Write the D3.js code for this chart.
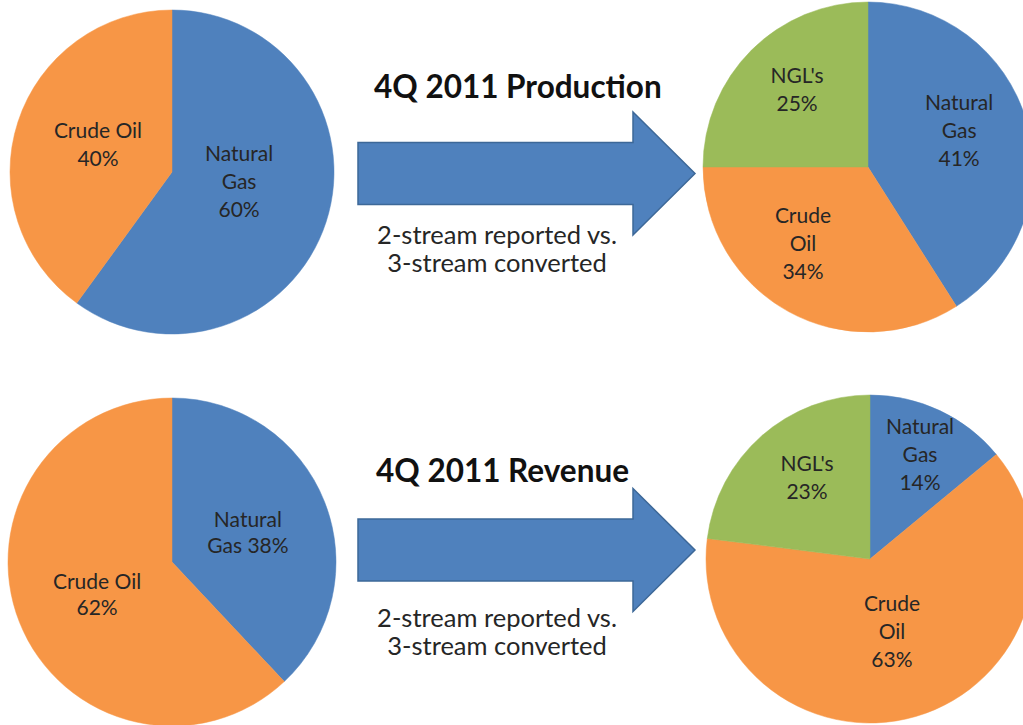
<!DOCTYPE html>
<html>
<head>
<meta charset="utf-8">
<script src="https://cdn.jsdelivr.net/npm/d3@7/dist/d3.min.js"></script>
<style>
  html, body { margin: 0; padding: 0; background: #ffffff; }
  svg { display: block; }
</style>
</head>
<body>
<div id="chart"></div>
<script>
// ---------------- DATA ----------------
const panelTitles = ["4Q 2011 Production", "4Q 2011 Revenue"];
const subtitleLines = ["2-stream reported vs.", "3-stream converted"];

const twoStreamCategories = ["Natural Gas", "Crude Oil"];
const threeStreamCategories = ["Natural Gas", "Crude Oil", "NGL's"];

const productionTwoStream = [60, 40];
const productionThreeStream = [41, 34, 25];
const revenueTwoStream = [38, 62];
const revenueThreeStream = [14, 63, 23];

// ---------------- LAYOUT / STYLE ----------------
const W = 1023, H = 725;
const colors = { "Natural Gas": "#4F81BD", "Crude Oil": "#F79646", "NGL's": "#9BBB59" };
const fontFamily = "Lato, 'Open Sans', 'Liberation Sans', sans-serif";

// label line templates (how each label wraps)
const wrap = {
  nameLinesPct: (name, pct) => [...name.split(" "), pct],     // Natural / Gas / 60%
  nameOnePct:   (name, pct) => [name, pct],                    // Crude Oil / 40%
  lastWithPct:  (name, pct) => { const p = name.split(" "); return [p[0], p.slice(1).join(" ") + " " + pct]; }
};

const pies = [
  { cats: twoStreamCategories,   vals: productionTwoStream,   cx: 172, cy: 172, r: 162, lh: 28,
    labels: [ { w: "nameLinesPct", dx: 0.414, dy: 0.062 }, { w: "nameOnePct", dx: -0.457, dy: -0.167 } ] },
  { cats: threeStreamCategories, vals: productionThreeStream, cx: 868, cy: 167, r: 165, lh: 28,
    labels: [ { w: "nameLinesPct", dx: 0.552, dy: -0.218 }, { w: "nameLinesPct", dx: -0.394, dy: 0.467 }, { w: "nameOnePct", dx: -0.430, dy: -0.467 } ] },
  { cats: twoStreamCategories,   vals: revenueTwoStream,      cx: 172, cy: 562, r: 164, lh: 26,
    labels: [ { w: "lastWithPct", dx: 0.463, dy: -0.177 }, { w: "nameOnePct", dx: -0.457, dy: 0.204 } ] },
  { cats: threeStreamCategories, vals: revenueThreeStream,    cx: 870, cy: 559, r: 164, lh: 28,
    labels: [ { w: "nameLinesPct", dx: 0.305, dy: -0.637 }, { w: "nameLinesPct", dx: 0.134, dy: 0.445 }, { w: "nameOnePct", dx: -0.384, dy: -0.497 } ] }
];

const panels = [
  { title: panelTitles[0], titleX: 374, titleY: 98, cy: 173.5, subY: 244 },
  { title: panelTitles[1], titleX: 376, titleY: 482, cy: 550, subY: 627 }
];
const arrowGeom = { x0: 358, xHead: 633, xTip: 695, shaftHalf: 31, headHalf: 61.5 };

// ---------------- DRAW ----------------
const svg = d3.select("#chart").append("svg").attr("width", W).attr("height", H)
  .style("background", "#ffffff");

const pct = d3.format(".0%");
const pieGen = d3.pie().sort(null).value(d => d.value).startAngle(0).endAngle(2 * Math.PI);

pies.forEach(p => {
  const data = p.cats.map((c, i) => ({ cat: c, value: p.vals[i] }));
  const total = d3.sum(p.vals);
  const arcs = pieGen(data);
  const arc = d3.arc().innerRadius(0).outerRadius(p.r);
  const g = svg.append("g").attr("transform", `translate(${p.cx},${p.cy})`);

  g.selectAll("path.slice").data(arcs).join("path")
    .attr("class", "slice")
    .attr("d", arc)
    .attr("fill", d => colors[d.data.cat])
    .attr("stroke", d => colors[d.data.cat])
    .attr("stroke-width", 0.5);

  arcs.forEach((a, i) => {
    const lab = p.labels[i];
    const lines = wrap[lab.w](a.data.cat, pct(a.data.value / total));
    const bx = lab.dx * p.r, by = lab.dy * p.r;
    const firstBase = by - (lines.length - 1) * p.lh / 2 + 7;
    const t = g.append("text")
      .attr("text-anchor", "middle")
      .attr("font-family", fontFamily)
      .attr("font-size", 21)
      .attr("fill", "#262626");
    lines.forEach((ln, k) => {
      t.append("tspan").attr("x", bx).attr("y", firstBase + k * p.lh).text(ln);
    });
  });
});

panels.forEach(pn => {
  const a = arrowGeom;
  const pts = [
    [a.x0, pn.cy - a.shaftHalf], [a.xHead, pn.cy - a.shaftHalf], [a.xHead, pn.cy - a.headHalf],
    [a.xTip, pn.cy], [a.xHead, pn.cy + a.headHalf], [a.xHead, pn.cy + a.shaftHalf], [a.x0, pn.cy + a.shaftHalf]
  ];
  svg.append("path")
    .attr("d", d3.line()(pts) + "Z")
    .attr("fill", "#4F81BD")
    .attr("stroke", "#3D6898")
    .attr("stroke-width", 1.5)
    .attr("stroke-linejoin", "miter");

  svg.append("text")
    .attr("x", pn.titleX).attr("y", pn.titleY)
    .attr("font-family", fontFamily)
    .attr("font-weight", 700)
    .attr("font-size", 31.5)
    .attr("fill", "#111")
    .text(pn.title);

  const st = svg.append("text")
    .attr("text-anchor", "middle")
    .attr("font-family", fontFamily)
    .attr("font-size", 25.5)
    .attr("fill", "#262626");
  subtitleLines.forEach((ln, k) => {
    st.append("tspan").attr("x", 497).attr("y", pn.subY + k * 27.5).text(ln);
  });
});
</script>
</body>
</html>
